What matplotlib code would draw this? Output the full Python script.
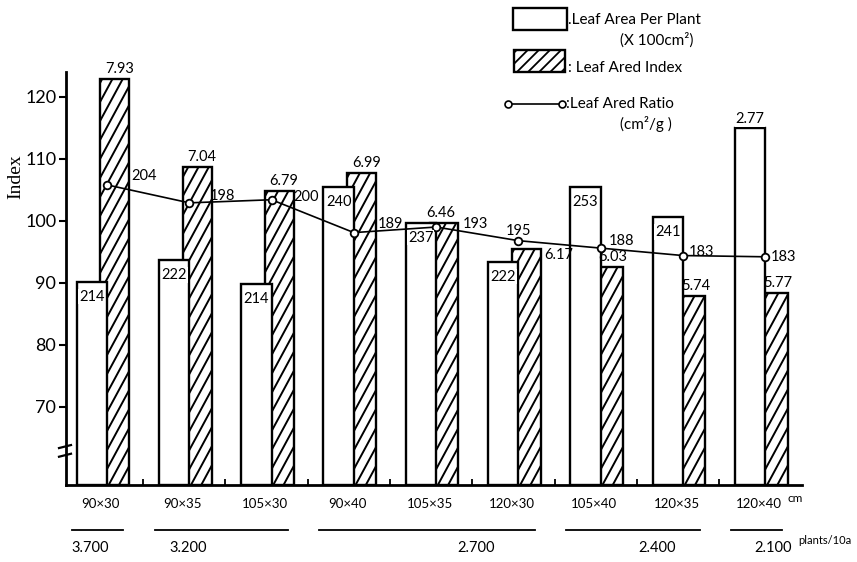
import numpy as np
import matplotlib
matplotlib.use("Agg")
import matplotlib.pyplot as plt
from matplotlib.patches import Rectangle
from matplotlib.lines import Line2D
from itertools import groupby

# ---------------- data ----------------
spacing = ["90×30", "90×35", "105×30", "90×40", "105×35", "120×30", "105×40", "120×35", "120×40"]
density = ["3.700", "3.200", "3.200", "2.700", "2.700", "2.700", "2.400", "2.400", "2.100"]

leaf_area_plant_idx = [90.2, 93.7, 89.8, 105.5, 99.7, 93.4, 105.5, 100.6, 115.0]
leaf_area_plant_lbl = ["214", "222", "214", "240", "237", "222", "253", "241", "2.77"]

lai_idx = [122.9, 108.7, 104.8, 107.7, 99.7, 95.5, 92.6, 87.9, 88.4]
lai_lbl = ["7.93", "7.04", "6.79", "6.99", "6.46", "6.17", "6.03", "5.74", "5.77"]

lar_idx = [105.8, 102.9, 103.4, 98.1, 99.0, 96.8, 95.6, 94.4, 94.2]
lar_lbl = ["204", "198", "200", "189", "193", "195", "188", "183", "183"]

yticks = [70, 80, 90, 100, 110, 120]

# ---------------- layout ----------------
W, H = 857, 562
FONT = ["Lato", "DejaVu Sans"]
plt.rcParams["font.family"] = FONT
plt.rcParams["hatch.linewidth"] = 1.3

fig = plt.figure(figsize=(W / 100, H / 100), dpi=100)
ax_l, ax_r, ax_t, ax_b = 66, 802, 72, 485
ax = fig.add_axes([ax_l / W, 1 - ax_b / H, (ax_r - ax_l) / W, (ax_b - ax_t) / H])
y0, y1 = 57.4, 124.0
x0, x1 = -0.498, 8.445
ax.set_xlim(x0, x1)
ax.set_ylim(y0, y1)
pxx = (ax_r - ax_l) / (x1 - x0)   # pixels per x unit
pxy = (ax_b - ax_t) / (y1 - y0)   # pixels per y unit

x = np.arange(len(spacing))
lw = 1.7

# hatched bars (Leaf Area Index) - behind
hbars = ax.bar(x - 0.08, np.array(lai_idx) - y0, bottom=y0, width=0.35, align="edge",
               facecolor="white", edgecolor="black", linewidth=lw, zorder=2)
# custom steep hatching clipped to each bar
slope_px = 1.85
step_px = 19
for b in hbars:
    bx, by, bw, bh = b.get_x(), b.get_y(), b.get_width(), b.get_height()
    wpx = bw * pxx
    rise = wpx * slope_px / pxy
    ys = np.arange(by - rise, by + bh + step_px / pxy, step_px / pxy)
    for yy in ys:
        ln = Line2D([bx, bx + bw], [yy, yy + rise], color="black", lw=1.4, zorder=2.5)
        ax.add_line(ln)
        ln.set_clip_path(b)

# white bars (Leaf Area per Plant) - in front
wbars = ax.bar(x - 0.37, np.array(leaf_area_plant_idx) - y0, bottom=y0, width=0.37, align="edge",
               facecolor="white", edgecolor="black", linewidth=lw, zorder=3)

# line (Leaf Area Ratio)
ax.plot(x, lar_idx, color="black", lw=1.2, marker="o", ms=5.5, mfc="white",
        mec="black", mew=1.3, zorder=6)

# ---------------- annotations ----------------
def off(xv, yv, dx, dy):
    return xv + dx / pxx, yv + dy / pxy

fs = 10.5
# LAR labels offsets (px)
lar_off = [(24, 9), (20, 7), (22, 3), (24, 9), (27, 3), (0, 10), (8, 7), (6, 4), (5, 0)]
for i, (v, t) in enumerate(zip(lar_idx, lar_lbl)):
    dx, dy = lar_off[i]
    xx, yy = off(i, v, dx, dy)
    ha = "center" if dx == 0 else "left"
    ax.text(xx, yy, t, ha=ha, va="center", fontsize=fs, zorder=7)

# white bar labels
for i, (v, t) in enumerate(zip(leaf_area_plant_idx, leaf_area_plant_lbl)):
    cx = i - 0.185
    if t == "2.77":
        xx, yy = off(cx, v, 0, 9)
    else:
        xx, yy = off(cx, v, 0, -15)
    ax.text(xx, yy, t, ha="center", va="center", fontsize=fs, zorder=7,
            bbox=dict(boxstyle="square,pad=0.05", fc="white", ec="none"))

# hatched bar labels
for i, (v, t) in enumerate(zip(lai_idx, lai_lbl)):
    cx = i + 0.15
    if i == 4:
        cx = i + 0.06
    if t == "6.17":
        xx, yy = off(i + 0.27, v, 4, -6)
        ax.text(xx, yy, t, ha="left", va="center", fontsize=fs, zorder=7)
    else:
        xx, yy = off(cx, v, 0, 10)
        ax.text(xx, yy, t, ha="center", va="center", fontsize=fs, zorder=7)

# ---------------- axes styling ----------------
for s in ["top", "right"]:
    ax.spines[s].set_visible(False)
ax.spines["left"].set_linewidth(2)
ax.spines["bottom"].set_linewidth(2)
ax.set_yticks(yticks)
ax.set_yticklabels([str(t) for t in yticks], fontsize=13)
ax.tick_params(axis="y", direction="out", length=5, width=1.5, pad=2)
ax.set_xticks([])
ax.set_xticks(x[:-1] + 0.44, minor=True)
ax.tick_params(axis="x", which="minor", direction="in", length=4, width=1.3)
ax.set_ylabel("Index", fontsize=14, family=["Liberation Serif"])
ax.yaxis.set_label_coords((24 - ax_l) / (ax_r - ax_l), (ax_b - 177) / (ax_b - ax_t))

# axis break marks
for yb in (62.2, 63.6):
    ax.add_line(Line2D([x0 - 7 / pxx, x0 + 5 / pxx], [yb - 1.5 / pxy, yb + 1.5 / pxy],
                       color="black", lw=1.6, clip_on=False, zorder=8))

# ---------------- x category rows ----------------
tr = ax.get_xaxis_transform()
axh = ax_b - ax_t
for i, s in enumerate(spacing):
    ax.text(i - 0.08, -19 / axh, s, transform=tr, ha="center", va="center", fontsize=9.5)
ax.text(8.36, -13 / axh, "cm", transform=tr, ha="center", va="center", fontsize=8.5)

dens_off = [-0.1, -0.4, 0.6, 0.3, 0.2]
k = 0
start = 0
for key, grp in groupby(density):
    n = len(list(grp))
    a, b = start - 0.42, start + n - 1 + 0.2
    ax.add_line(Line2D([a, b], [-45 / axh, -45 / axh], transform=tr, color="black",
                       lw=1.3, clip_on=False))
    ax.text((a + b) / 2 + dens_off[k], -63 / axh, key, transform=tr, ha="center",
            va="center", fontsize=10.5)
    start += n
    k += 1
ax.text(8.40, -56 / axh, "plants/10a", transform=tr, ha="left", va="center", fontsize=8)

# ---------------- legend (manual) ----------------
def fx(px):
    return px / W

def fy(py):
    return 1 - py / H

fig.patches.append(Rectangle((fx(513), fy(30)), fx(567) - fx(513), fy(8) - fy(30),
                             transform=fig.transFigure, fc="white", ec="black", lw=1.7))
hr = Rectangle((fx(514), fy(72)), fx(565) - fx(514), fy(50) - fy(72),
               transform=fig.transFigure, fc="white", ec="black", lw=1.7, hatch="///")
fig.patches.append(hr)
fig.lines.append(Line2D([fx(508), fx(562)], [fy(104), fy(104)], transform=fig.transFigure,
                        color="black", lw=1.2, marker="o", ms=5, mfc="white", mec="black", mew=1.2))
lfs = 11
fig.text(fx(568), fy(20), ".Leaf Area Per Plant", ha="left", va="center", fontsize=lfs)
fig.text(fx(620), fy(40), "(X 100cm²)", ha="left", va="center", fontsize=lfs)
fig.text(fx(568), fy(68), ": Leaf Ared Index", ha="left", va="center", fontsize=lfs)
fig.text(fx(566), fy(104), ":Leaf Ared Ratio", ha="left", va="center", fontsize=lfs)
fig.text(fx(620), fy(124), "(cm²/g )", ha="left", va="center", fontsize=lfs)

fig.savefig("out.png", dpi=100)
